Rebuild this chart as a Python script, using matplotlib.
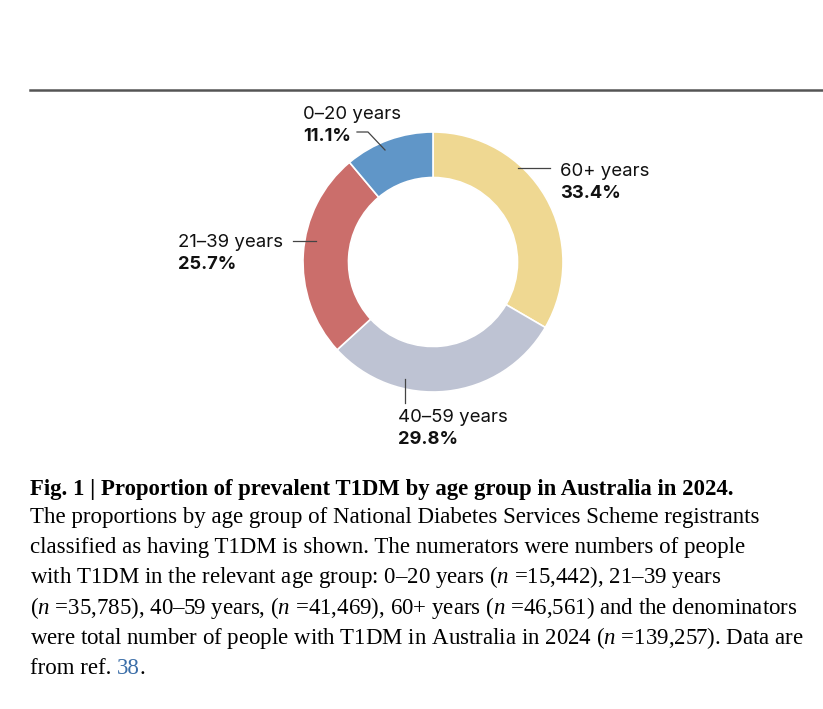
import matplotlib
matplotlib.use("Agg")
import matplotlib.pyplot as plt
from matplotlib.transforms import IdentityTransform
from matplotlib.lines import Line2D

# data: age groups clockwise from 12 o'clock
groups = ["60+ years", "40\u201359 years", "21\u201339 years", "0\u201320 years"]
shares = [33.4, 29.8, 25.7, 11.1]
colours = ["#EFD892", "#BEC3D3", "#CB6E6B", "#6096C8"]

W, H = 823, 709
fig = plt.figure(figsize=(W / 100, H / 100), dpi=100)
fig.patch.set_facecolor("white")

plt.rcParams["mathtext.fontset"] = "custom"
plt.rcParams["mathtext.rm"] = "Liberation Serif"
plt.rcParams["mathtext.it"] = "Liberation Serif:italic"

# donut, centre (433, 262) px, outer radius 130 px
cx, cy, R = 433, 262, 130
ax = fig.add_axes([(cx - R) / W, (H - cy - R) / H, 2 * R / W, 2 * R / H])
ax.pie(shares, colors=colours, startangle=90, counterclock=False, radius=1,
       wedgeprops=dict(width=0.35, edgecolor="white", linewidth=1.2))
ax.set_xlim(-1, 1)
ax.set_ylim(-1, 1)
ax.set_aspect("equal")
ax.axis("off")

T = IdentityTransform()


def px(x, y):
    return x, H - y


# top rule
fig.add_artist(Line2D([30, W], [H - 90, H - 90], transform=T, color="#555555", lw=1.8))

# labels: (x, baseline of name, leader line pts)
lab_font = "Inter"
lab_pos = {
    "60+ years": (560, 176, [(518, 168), (550, 168)]),
    "40\u201359 years": (398, 422, [(405, 379), (405, 403)]),
    "21\u201339 years": (178, 247, [(293, 241), (316, 241)]),
    "0\u201320 years": (303, 119, [(357, 132), (368, 132), (385, 150)]),
}
for g, s in zip(groups, shares):
    x, yb, pts = lab_pos[g]
    fig.text(*px(x, yb), g, transform=T, fontsize=13.4, family=lab_font,
             va="baseline", ha="left", color="#111111")
    fig.text(*px(x, yb + 22), "%.1f%%" % s, transform=T, fontsize=13.2, family=lab_font,
             weight="bold", va="baseline", ha="left", color="#111111")
    xs = [p[0] for p in pts]
    ys = [H - p[1] for p in pts]
    fig.add_artist(Line2D(xs, ys, transform=T, color="#444444", lw=0.9))

# caption
cap_size = 16.5
serif = "Liberation Serif"
lines = [
    "The proportions by age group of National Diabetes Services Scheme registrants",
    "classified as having T1DM is shown. The numerators were numbers of people",
    "with T1DM in the relevant age group: 0\u201320 years ($n$ =15,442), 21\u201339 years",
    "($n$ =35,785), 40\u201359 years, ($n$ =41,469), 60+ years ($n$ =46,561) and the denominators",
    "were total number of people with T1DM in Australia in 2024 ($n$ =139,257). Data are",
]
fig.text(*px(30, 495), "Fig. 1 | Proportion of prevalent T1DM by age group in Australia in 2024.",
         transform=T, fontsize=16.4, family=serif, weight="bold", va="baseline")
yb = 523
for ln in lines:
    fig.text(*px(30, yb), ln, transform=T, fontsize=cap_size, family=serif, va="baseline")
    yb += 30.2
t = fig.text(*px(30, yb), "from ref.", transform=T, fontsize=cap_size, family=serif, va="baseline")
r = fig.canvas.get_renderer()
x2 = 30 + t.get_window_extent(r).width + 5
t2 = fig.text(*px(x2, yb), "38", transform=T, fontsize=cap_size, family=serif, va="baseline",
              color="#3B6EA8")
x3 = x2 + t2.get_window_extent(r).width
fig.text(*px(x3, yb), ".", transform=T, fontsize=cap_size, family=serif, va="baseline")

fig.savefig("out.png", dpi=100)
